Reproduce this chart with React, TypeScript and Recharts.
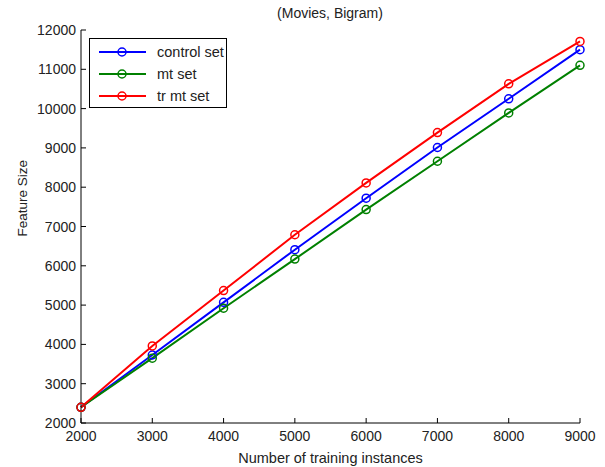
import React from "react";
import { Line, LineChart, XAxis, YAxis } from "recharts";

const trainingSizes = [2000, 3000, 4000, 5000, 6000, 7000, 8000, 9000];
const controlSet = [2400, 3730, 5070, 6410, 7720, 9010, 10250, 11500];
const mtSet = [2400, 3650, 4920, 6170, 7430, 8660, 9890, 11100];
const trMtSet = [2400, 3960, 5370, 6790, 8110, 9390, 10630, 11710];

const xTicks = [2000, 3000, 4000, 5000, 6000, 7000, 8000, 9000];
const yTicks = [2000, 3000, 4000, 5000, 6000, 7000, 8000, 9000, 10000, 11000, 12000];

const SERIES = [
  { key: "control", name: "control set", color: "#0000ff" },
  { key: "mt", name: "mt set", color: "#008000" },
  { key: "trmt", name: "tr mt set", color: "#ff0000" },
];

const FONT = "'Liberation Sans', Arial, Helvetica, sans-serif";

const data = trainingSizes.map((x, i) => ({
  x,
  control: controlSet[i],
  mt: mtSet[i],
  trmt: trMtSet[i],
}));

const BottomTick = ({ x, y, payload }: any) => (
  <g>
    <line x1={x} y1={y} x2={x} y2={y - 5} stroke="#000" />
    <text x={x} y={y + 18} textAnchor="middle" fontSize={14} fontFamily={FONT} fill="#222">
      {payload.value}
    </text>
  </g>
);

const TopTick = ({ x, y }: any) => <line x1={x} y1={y} x2={x} y2={y + 5} stroke="#000" />;

const LeftTick = ({ x, y, payload }: any) => (
  <g>
    <line x1={x} y1={y} x2={x + 5} y2={y} stroke="#000" />
    <text x={x - 5} y={y + 5} textAnchor="end" fontSize={14} fontFamily={FONT} fill="#222">
      {payload.value}
    </text>
  </g>
);

const RightTick = ({ x, y }: any) => <line x1={x} y1={y} x2={x - 5} y2={y} stroke="#000" />;

const LegendBox = () => (
  <div
    style={{
      position: "absolute",
      left: 89,
      top: 38,
      width: 136,
      height: 66,
      border: "1px solid #000",
      background: "#fff",
      fontFamily: FONT,
      fontSize: 14.5,
      color: "#222",
      boxSizing: "content-box",
      paddingTop: 2,
    }}
  >
    {SERIES.map((s) => (
      <div key={s.key} style={{ display: "flex", alignItems: "center", height: 22 }}>
        <svg width={59} height={12} style={{ marginLeft: 8 }}>
          <line x1={1} y1={6} x2={48} y2={6} stroke={s.color} strokeWidth={2} />
          <circle cx={24} cy={6} r={4} fill="none" stroke={s.color} strokeWidth={1.5} />
        </svg>
        <span>{s.name}</span>
      </div>
    ))}
  </div>
);

export default function App() {
  return (
    <div style={{ position: "absolute", left: 0, top: 0, width: 605, height: 467, background: "#fff" }}>
      <LineChart width={605} height={467} data={data} margin={{ top: 30, right: 25, bottom: 0, left: 21 }}>
        <XAxis
          dataKey="x"
          type="number"
          domain={[2000, 9000]}
          ticks={xTicks}
          height={44}
          tickSize={0}
          tickMargin={0}
          tickLine={false}
          axisLine={{ stroke: "#000" }}
          tick={<BottomTick />}
          interval={0}
          label={{
            value: "Number of training instances",
            position: "insideBottom",
            offset: 4,
            fontSize: 14.5,
            fontFamily: FONT,
            fill: "#222",
          }}
        />
        <XAxis
          xAxisId="top"
          orientation="top"
          dataKey="x"
          type="number"
          domain={[2000, 9000]}
          ticks={xTicks}
          height={0}
          tickSize={0}
          tickMargin={0}
          tickLine={false}
          axisLine={{ stroke: "#000" }}
          tick={<TopTick />}
          interval={0}
        />
        <YAxis
          type="number"
          domain={[2000, 12000]}
          ticks={yTicks}
          width={60}
          tickSize={0}
          tickMargin={0}
          tickLine={false}
          axisLine={{ stroke: "#000" }}
          tick={<LeftTick />}
          interval={0}
          label={{
            value: "Feature Size",
            angle: -90,
            position: "insideLeft",
            offset: 0,
            dx: 1,
            dy: 10,
            fontSize: 13.5,
            fontFamily: FONT,
            fill: "#222",
          }}
        />
        <YAxis
          yAxisId="right"
          orientation="right"
          type="number"
          domain={[2000, 12000]}
          ticks={yTicks}
          width={0}
          tickSize={0}
          tickMargin={0}
          tickLine={false}
          axisLine={{ stroke: "#000" }}
          tick={<RightTick />}
          interval={0}
        />
        {SERIES.map((s) => (
          <Line
            key={s.key}
            dataKey={s.key}
            name={s.name}
            stroke={s.color}
            strokeWidth={2}
            dot={{ r: 4, fill: "none", stroke: s.color, strokeWidth: 1.5 }}
            activeDot={false}
            isAnimationActive={false}
          />
        ))}
        <text x={330} y={18} textAnchor="middle" fontSize={14} fontFamily={FONT} fill="#222">
          (Movies, Bigram)
        </text>
      </LineChart>
      <LegendBox />
    </div>
  );
}
